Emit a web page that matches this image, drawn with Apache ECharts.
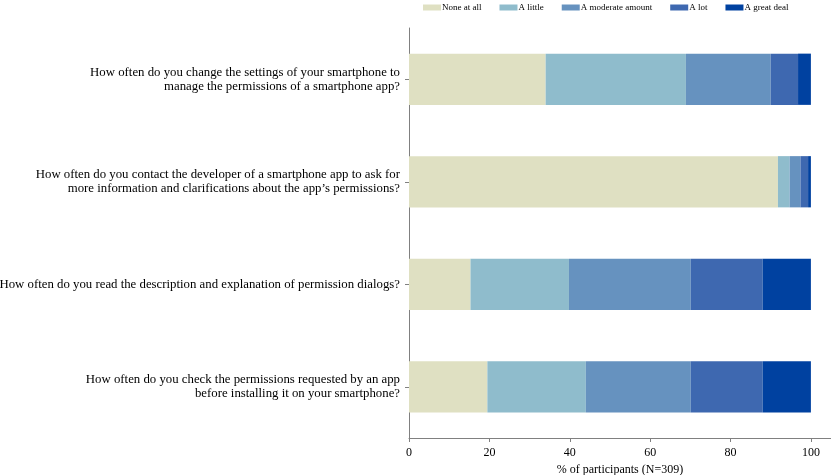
<!DOCTYPE html>
<html>
<head>
<meta charset="utf-8">
<script src="https://cdn.jsdelivr.net/npm/echarts@6/dist/echarts.min.js"></script>
<style>
  html, body { margin: 0; padding: 0; background: #fff; }
  #chart { width: 831px; height: 475px; }
</style>
</head>
<body>
<div id="chart"></div>
<script>
// questions, top to bottom
const questions = [
  'How often do you change the settings of your smartphone to\nmanage the permissions of a smartphone app?',
  'How often do you contact the developer of a smartphone app to ask for\nmore information and clarifications about the app\u2019s permissions?',
  'How often do you read the description and explanation of permission dialogs?',
  'How often do you check the permissions requested by an app\nbefore installing it on your smartphone?'
]
const levels = ['None at all', 'A little', 'A moderate amount', 'A lot', 'A great deal']
const colors = ['#dfe0c2', '#8fbccc', '#6692bf', '#3e68b0', '#0041a0']

// % of participants per level, one entry per question
const noneAtAll = [34.0, 91.8, 15.3, 19.5]
const aLittle = [34.9, 2.9, 24.5, 24.5]
const moderate = [21.1, 2.7, 30.3, 26.1]
const aLot = [6.8, 1.9, 17.9, 17.9]
const greatDeal = [3.2, 0.7, 12.0, 12.0]
const xTicks = [0, 20, 40, 60, 80, 100]

const values = [noneAtAll, aLittle, moderate, aLot, greatDeal]
const font = 'Liberation Serif'

const chart = echarts.init(document.getElementById('chart'))
chart.setOption({
  animation: false,
  textStyle: { fontFamily: font, color: '#000' },
  legend: {
    top: -2,
    left: 418,
    itemWidth: 18,
    itemHeight: 6,
    itemGap: 18,
    icon: 'rect',
    textStyle: { fontFamily: font, fontSize: 9, color: '#000', padding: [0, 0, 0, -4] },
    data: levels
  },
  grid: {
    left: 409,
    right: 0,
    top: 28,
    bottom: 37,
    containLabel: false,
    outerBoundsMode: 'none'
  },
  xAxis: {
    type: 'value',
    min: 0,
    max: 105,
    interval: 20,
    name: '% of participants (N=309)',
    nameLocation: 'middle',
    nameGap: 24,
    nameTextStyle: { fontFamily: font, fontSize: 12, color: '#000' },
    axisLine: { show: true, lineStyle: { color: '#808080', width: 1 } },
    axisTick: { show: true, length: 4, lineStyle: { color: '#808080' } },
    axisLabel: {
      fontFamily: font,
      fontSize: 12,
      color: '#000',
      margin: 9,
      formatter: (v) => (xTicks.includes(v) ? String(v) : '')
    },
    splitLine: { show: false }
  },
  yAxis: {
    type: 'category',
    inverse: true,
    data: questions,
    axisLine: { show: true, lineStyle: { color: '#808080', width: 1 } },
    axisTick: { show: true, alignWithLabel: true, length: 4, lineStyle: { color: '#808080' } },
    axisLabel: {
      fontFamily: font,
      fontSize: 12.8,
      lineHeight: 14,
      color: '#000',
      margin: 9,
      align: 'right'
    }
  },
  series: levels.map((name, i) => ({
    name,
    type: 'bar',
    stack: 'total',
    barWidth: '50%',
    itemStyle: { color: colors[i] },
    data: values[i]
  }))
})
</script>
</body>
</html>
